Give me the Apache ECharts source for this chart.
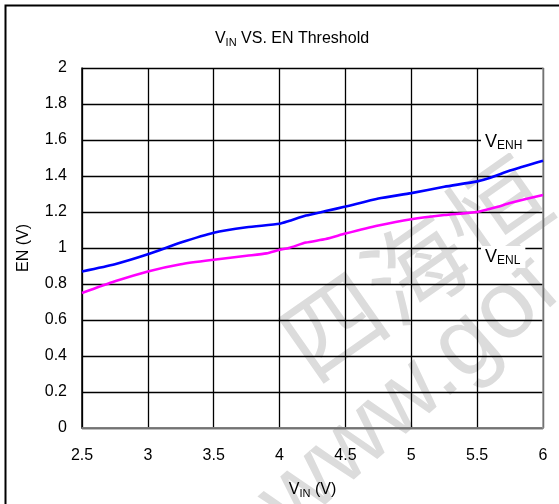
<!DOCTYPE html>
<html>
<head>
<meta charset="utf-8">
<script src="https://cdn.jsdelivr.net/npm/echarts@6/dist/echarts.min.js"></script>
<style>
html,body{margin:0;padding:0;background:#fff;}
#chart{width:559px;height:504px;}
</style>
</head>
<body>
<div id="chart"></div>
<script>
// ---- data ----
var xTicks = [2.5, 3, 3.5, 4, 4.5, 5, 5.5, 6];
var yTicks = [0, 0.2, 0.4, 0.6, 0.8, 1, 1.2, 1.4, 1.6, 1.8, 2];
var vinEnh = [2.5, 2.75, 3.0, 3.25, 3.5, 3.75, 4.0, 4.07, 4.2, 4.35, 4.5, 4.75, 5.0, 5.25, 5.5, 5.6, 5.75, 6.0];
var enh    = [0.87, 0.91, 0.965, 1.03, 1.085, 1.115, 1.135, 1.15, 1.18, 1.205, 1.23, 1.275, 1.305, 1.34, 1.37, 1.39, 1.43, 1.485];
var vinEnl = [2.5, 2.75, 3.0, 3.25, 3.5, 3.75, 3.9, 4.0, 4.07, 4.2, 4.35, 4.5, 4.75, 5.0, 5.25, 5.5, 5.65, 5.75, 6.0];
var enl    = [0.75, 0.815, 0.87, 0.91, 0.935, 0.957, 0.97, 0.99, 1.0, 1.03, 1.05, 1.08, 1.125, 1.16, 1.183, 1.2, 1.228, 1.25, 1.295];
var titleText = 'V{sub|IN} VS. EN Threshold';
var xName = 'V{sub|IN} (V)';
var yName = 'EN (V)';
var enhLabel = '{big|V}{sub2|ENH}';
var enlLabel = '{big|V}{sub2|ENL}';

function zip(a, b) { return a.map(function (v, i) { return [v, b[i]]; }); }

var FONT = '"Liberation Sans", Arial, sans-serif';
var subRich = {
  sub: { fontSize: 11, lineHeight: 8, verticalAlign: 'bottom', fontFamily: FONT, color: '#000' },
  big: { fontSize: 18, lineHeight: 20, fontFamily: FONT, color: '#000' },
  sub2: { fontSize: 12, lineHeight: 9, verticalAlign: 'bottom', fontFamily: FONT, color: '#000' }
};

var chart = echarts.init(document.getElementById('chart'), null, { renderer: 'canvas' });
var option = {
  backgroundColor: '#fff',
  animation: false,
  title: {
    text: titleText,
    left: 287, top: 24,
    textAlign: 'center',
    textStyle: { fontSize: 16, fontWeight: 'normal', fontFamily: FONT, color: '#000', lineHeight: 19, rich: subRich }
  },
  grid: { left: 82, right: 16, top: 68, bottom: 76, containLabel: false },
  xAxis: [{
    type: 'value', min: 2.5, max: 6, interval: 0.5,
    name: xName, nameLocation: 'middle', nameGap: 52,
    nameTextStyle: { fontSize: 16, fontFamily: FONT, color: '#000', lineHeight: 19, rich: subRich },
    axisLine: { show: true, lineStyle: { color: '#000', width: 1.5 } },
    axisTick: { show: false },
    axisLabel: { fontSize: 16, fontFamily: FONT, color: '#000', margin: 20,
      formatter: function (v) { return xTicks.indexOf(v) >= 0 ? String(v) : ''; } },
    splitLine: { show: true, lineStyle: { color: '#000', width: 1.3 } }
  }, {
    type: 'value', min: 2.5, max: 6, interval: 0.5, position: 'top',
    axisLine: { show: true, lineStyle: { color: '#999', width: 1.5 } },
    axisTick: { show: false }, axisLabel: { show: false }, splitLine: { show: false }, z: 5
  }],
  yAxis: [{
    type: 'value', min: 0, max: 2, interval: 0.2,
    name: yName, nameLocation: 'middle', nameGap: 50, nameRotate: 90,
    nameTextStyle: { fontSize: 16, fontFamily: FONT, color: '#000' },
    axisLine: { show: true, lineStyle: { color: '#000', width: 1.5 } },
    axisTick: { show: false },
    axisLabel: { fontSize: 16, fontFamily: FONT, color: '#000', margin: 15,
      formatter: function (v) {
        var r = Math.round(v * 10) / 10;
        return yTicks.indexOf(r) >= 0 ? String(r) : '';
      } },
    splitLine: { show: true, lineStyle: { color: '#000', width: 1.3 } }
  }, {
    type: 'value', min: 0, max: 2, interval: 0.2, position: 'right',
    axisLine: { show: true, lineStyle: { color: '#999', width: 1.5 } },
    axisTick: { show: false }, axisLabel: { show: false }, splitLine: { show: false }, z: 5
  }],
  series: [{
    name: 'VENH', type: 'line', data: zip(vinEnh, enh),
    showSymbol: false, smooth: 0.2, z: 10,
    lineStyle: { color: '#0000ff', width: 2.6 }
  }, {
    name: 'VENL', type: 'line', data: zip(vinEnl, enl),
    showSymbol: false, smooth: 0.2, z: 10,
    lineStyle: { color: '#ff00ff', width: 2.6 }
  }],
  graphic: [
    { type: 'rect', z: -5, silent: true,
      shape: { x: 5.5, y: 5.5, width: 700, height: 700 },
      style: { fill: 'none', stroke: '#000', lineWidth: 2 } },
    { type: 'text', z: -10, silent: true, x: 415, y: 268, rotation: 0.61,
      style: { text: '四海恒', font: '100px "Noto Sans CJK SC", sans-serif', fill: '#dcdcdc', align: 'center', verticalAlign: 'middle' } },
    { type: 'text', z: -10, silent: true, x: 410, y: 395, rotation: 0.72,
      style: { text: 'www.gof', font: '96px "Liberation Sans", Arial, sans-serif', fill: '#dcdcdc', align: 'center', verticalAlign: 'middle' } },
    { type: 'text', z: 100, silent: true, x: 481, y: 142,
      style: { text: enhLabel, fontFamily: FONT, fill: '#000', verticalAlign: 'middle',
        backgroundColor: '#fff', padding: [1, 5, 1, 4], rich: subRich } },
    { type: 'text', z: 100, silent: true, x: 481, y: 257,
      style: { text: enlLabel, fontFamily: FONT, fill: '#000', verticalAlign: 'middle',
        backgroundColor: '#fff', padding: [1, 5, 1, 4], rich: subRich } }
  ]
};
chart.setOption(option);
</script>
</body>
</html>
